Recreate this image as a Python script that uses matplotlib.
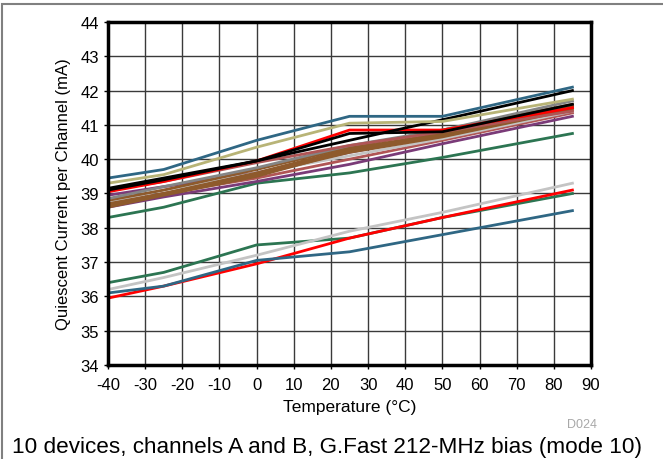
import numpy as np
import matplotlib.pyplot as plt
from matplotlib.patches import Rectangle

plt.rcParams['font.family'] = ['Liberation Sans', 'DejaVu Sans']
plt.rcParams['axes.unicode_minus'] = False

temps = [-40, -25, 0, 25, 50, 85]

# upper group (channel currents, mA)
blue_a = [39.45, 39.7, 40.55, 41.25, 41.25, 42.1]
khaki_a = [39.3, 39.55, 40.35, 41.05, 41.1, 41.75]
black_a = [39.15, 39.45, 39.95, 40.55, 41.15, 42.0]
black_b = [39.1, 39.4, 39.95, 40.75, 40.8, 41.6]
red_a = [39.05, 39.35, 39.95, 40.85, 40.85, 41.5]
rosy_a = [39.1, 39.35, 39.9, 40.4, 40.8, 41.4]
gray_a = [38.85, 39.2, 39.75, 40.4, 40.85, 41.7]
brown_a = [38.8, 39.1, 39.7, 40.35, 40.85, 41.6]
brown_b = [38.7, 39.0, 39.6, 40.3, 40.75, 41.5]
brown_c = [38.6, 38.95, 39.5, 40.25, 40.7, 41.55]
brown_d = [38.65, 39.0, 39.55, 40.2, 40.65, 41.45]
silver_a = [38.75, 39.1, 39.6, 40.1, 40.6, 41.4]
purple_a = [38.95, 39.2, 39.6, 40.2, 40.7, 41.5]
rosy_b = [38.7, 39.0, 39.45, 40.0, 40.55, 41.35]
purple_b = [38.6, 38.9, 39.35, 39.85, 40.45, 41.25]
green_a = [38.3, 38.6, 39.3, 39.6, 40.05, 40.75]

# lower group
green_b = [36.4, 36.7, 37.5, 37.7, 38.3, 39.0]
silver_b = [36.2, 36.55, 37.2, 37.9, 38.45, 39.3]
blue_b = [36.1, 36.3, 37.05, 37.3, 37.8, 38.5]
red_b = [35.95, 36.3, 36.95, 37.7, 38.3, 39.1]

c_blue = '#2F6784'
c_khaki = '#B8B477'
c_red = '#FF0000'
c_rosy = '#B05555'
c_gray = '#858585'
c_brown = '#8E5A2C'
c_silver = '#C4C4C4'
c_purple = '#7A3B78'
c_green = '#2C7552'

series = [
    (green_a, c_green), (purple_b, c_purple), (rosy_b, c_rosy),
    (purple_a, c_purple), (silver_a, c_silver), (brown_d, c_brown),
    (brown_c, c_brown), (brown_b, c_brown), (brown_a, c_brown),
    (gray_a, c_gray), (rosy_a, c_rosy), (red_a, c_red),
    (black_b, 'black'), (black_a, 'black'), (khaki_a, c_khaki),
    (blue_a, c_blue),
    (green_b, c_green), (silver_b, c_silver), (red_b, c_red), (blue_b, c_blue),
]

fig = plt.figure(figsize=(6.63, 4.6), dpi=100)
ax = fig.add_axes([108 / 663, 1 - 366 / 460, 483 / 663, 343 / 460])

for vals, col in series:
    ax.plot(temps, vals, color=col, lw=2)

ax.set_xlim(-40, 90)
ax.set_ylim(34, 44)
ax.set_xticks(np.arange(-40, 91, 10))
ax.set_yticks(np.arange(34, 45, 1))
ax.grid(True, color='#3a3a3a', lw=1)
ax.set_axisbelow(True)
for s in ax.spines.values():
    s.set_linewidth(2.5)
ax.tick_params(labelsize=12, length=3, width=1)
ax.tick_params(axis='x', pad=6)
ax.set_xlabel('Temperature (°C)', fontsize=12.5, labelpad=5)
ax.set_ylabel('Quiescent Current per Channel (mA)', fontsize=12, labelpad=7)

fig.text(597 / 663, 1 - 425 / 460, 'D024', fontsize=9, color='#a8a8a8',
         ha='right', va='center')
fig.text(12 / 663, 1 - 448 / 460,
         '10 devices, channels A and B, G.Fast 212-MHz bias (mode 10)',
         fontsize=16.2, ha='left', va='center')

fig.patches.append(Rectangle((2 / 663, -0.1), 1.1, 1.1 - 5 / 460,
                             transform=fig.transFigure, fill=False,
                             edgecolor='#808080', lw=1.5))

plt.savefig('out.png', dpi=100)
plt.close()
